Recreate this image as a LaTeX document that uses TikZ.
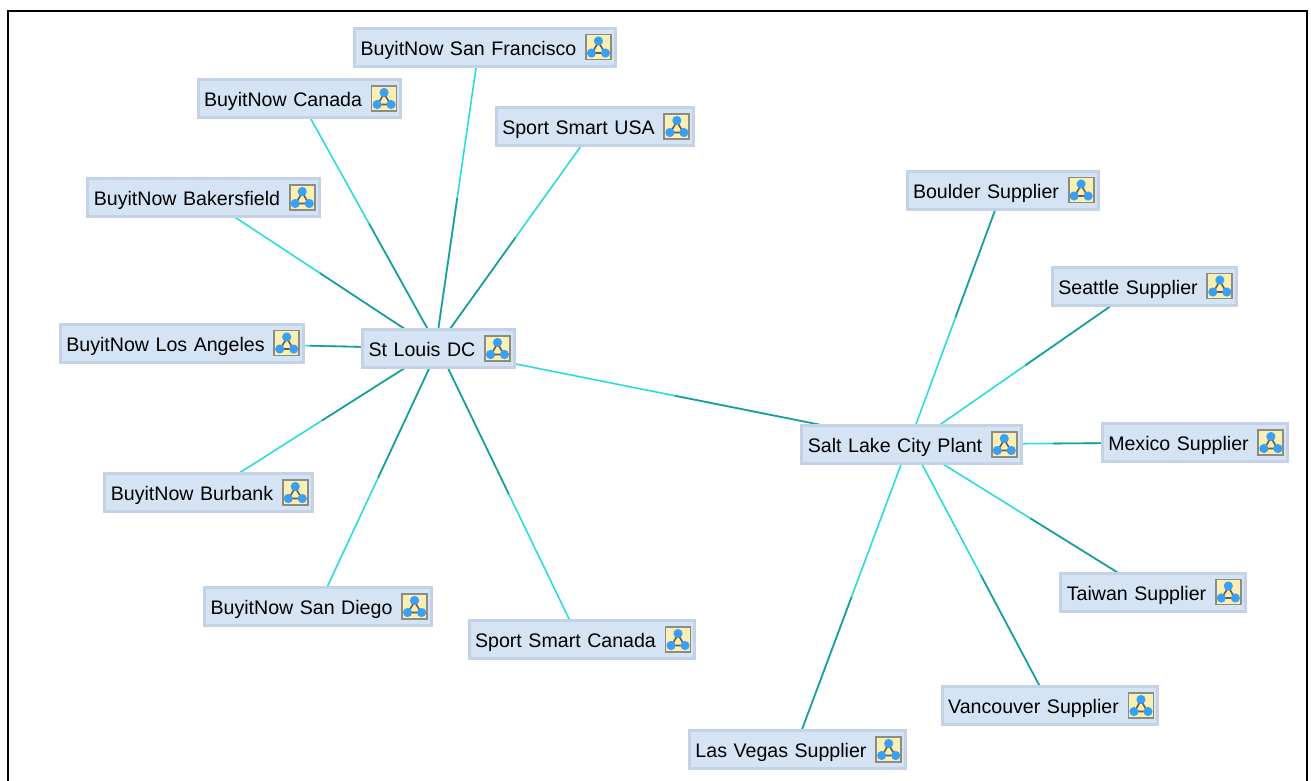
\documentclass[tikz,border=0pt]{standalone}
\usepackage{fontspec}
\setmainfont{Liberation Sans}[WordSpace=1.2]
\usetikzlibrary{calc,positioning,backgrounds}
\definecolor{sitefill}{HTML}{D5E4F5}
\definecolor{siteline}{HTML}{C5D2E6}
\definecolor{iconfill}{HTML}{F8EFB5}
\definecolor{iconline}{HTML}{8C8C84}
\definecolor{iconblue}{HTML}{3AA0F5}
\definecolor{iconedge}{HTML}{6E5A3C}
\definecolor{linkcyan}{HTML}{2BDCDC}
\definecolor{linkteal}{HTML}{1E9A9A}
\tikzset{
  site/.style={rectangle, fill=sitefill, draw=siteline, line width=3pt, minimum height=38pt, inner xsep=6pt, inner ysep=0pt, text height=16pt, text depth=0pt, font=\fontsize{19.6}{22}\selectfont},
  iconbox/.style={rectangle, fill=iconfill, draw=iconline, line width=1.8pt, minimum size=25pt, inner sep=0pt, path picture={
    \draw [iconedge, line width=1.6pt] (0,-5) -- (-6.5,6) -- (6.5,6) -- cycle;
    \fill [iconblue] (0,-6) circle (4.6);
    \fill [iconblue] (-7,6) circle (4.6);
    \fill [iconblue] (7,6) circle (4.6);
  }},
  linkout/.style={draw=linkcyan, line width=1.6pt},
  linkin/.style={draw=linkteal, line width=1.6pt}
}
\newcommand{\iconslot}{\hbox to 33pt{}}
\newcommand{\sitelink}[2]{
  \draw [linkout] (#1) -- (#2);
  \draw [linkin] ($(#1)!0.5!(#2)$) -- (#2);
}
\begin{document}
\begin{tikzpicture}[x=1pt,y=-1pt]
\useasboundingbox (0,0) rectangle (1311,780);
\draw [black, line width=2.5pt] (8,790) -- (8,11) -- (1307,11) -- (1307,790);
\node [site] (sanfrancisco) at (485,47) {BuyitNow San Francisco\iconslot};
\node [iconbox, left=5pt of sanfrancisco.east] (sanfranciscoicon) {};
\node [site] (canada) at (299.5,98.5) {BuyitNow Canada\iconslot};
\node [iconbox, left=5pt of canada.east] (canadaicon) {};
\node [site] (usa) at (595,126.5) {Sport Smart USA\iconslot};
\node [iconbox, left=5pt of usa.east] (usaicon) {};
\node [site] (bakersfield) at (203.5,197.5) {BuyitNow Bakersfield\iconslot};
\node [iconbox, left=5pt of bakersfield.east] (bakersfieldicon) {};
\node [site] (losangeles) at (182,343) {BuyitNow Los Angeles\iconslot};
\node [iconbox, left=5pt of losangeles.east] (losangelesicon) {};
\node [site] (stlouis) at (438.5,348.5) {St Louis DC\iconslot};
\node [iconbox, left=5pt of stlouis.east] (stlouisicon) {};
\node [site] (burbank) at (208.5,492.5) {BuyitNow Burbank\iconslot};
\node [iconbox, left=5pt of burbank.east] (burbankicon) {};
\node [site] (sandiego) at (318,606.5) {BuyitNow San Diego\iconslot};
\node [iconbox, left=5pt of sandiego.east] (sandiegoicon) {};
\node [site] (smartcanada) at (582,639.5) {Sport Smart Canada\iconslot};
\node [iconbox, left=5pt of smartcanada.east] (smartcanadaicon) {};
\node [site] (boulder) at (1002.5,190) {Boulder Supplier\iconslot};
\node [iconbox, left=5pt of boulder.east] (bouldericon) {};
\node [site] (seattle) at (1144.5,286) {Seattle Supplier\iconslot};
\node [iconbox, left=5pt of seattle.east] (seattleicon) {};
\node [site] (saltlake) at (911.5,444.5) {Salt Lake City Plant\iconslot};
\node [iconbox, left=5pt of saltlake.east] (saltlakeicon) {};
\node [site] (mexico) at (1195,442.5) {Mexico Supplier\iconslot};
\node [iconbox, left=5pt of mexico.east] (mexicoicon) {};
\node [site] (taiwan) at (1153,592) {Taiwan Supplier\iconslot};
\node [iconbox, left=5pt of taiwan.east] (taiwanicon) {};
\node [site] (vancouver) at (1050,705.5) {Vancouver Supplier\iconslot};
\node [iconbox, left=5pt of vancouver.east] (vancouvericon) {};
\node [site] (lasvegas) at (797.5,749.5) {Las Vegas Supplier\iconslot};
\node [iconbox, left=5pt of lasvegas.east] (lasvegasicon) {};
\begin{pgfonlayer}{background}
\sitelink{[xshift=-6pt]sanfrancisco.center}{[xshift=-3pt]stlouis.center}
\sitelink{canada.center}{stlouis.center}
\sitelink{usa.center}{[xshift=-2.5pt]stlouis.center}
\sitelink{[xshift=1.5pt]bakersfield.center}{[xshift=-4pt]stlouis.center}
\sitelink{losangeles.center}{stlouis.center}
\sitelink{burbank.center}{[xshift=-3pt]stlouis.center}
\sitelink{sandiego.center}{stlouis.center}
\sitelink{[xshift=-3pt]smartcanada.center}{stlouis.center}
\sitelink{stlouis.center}{[yshift=1.5pt]saltlake.center}
\sitelink{[xshift=-3pt]saltlake.center}{boulder.center}
\sitelink{saltlake.center}{[xshift=-5pt]seattle.center}
\sitelink{saltlake.center}{mexico.center}
\sitelink{saltlake.center}{[xshift=-4pt]taiwan.center}
\sitelink{saltlake.center}{vancouver.center}
\sitelink{[xshift=-3pt]saltlake.center}{[xshift=-3pt]lasvegas.center}
\end{pgfonlayer}
\end{tikzpicture}
\end{document}
